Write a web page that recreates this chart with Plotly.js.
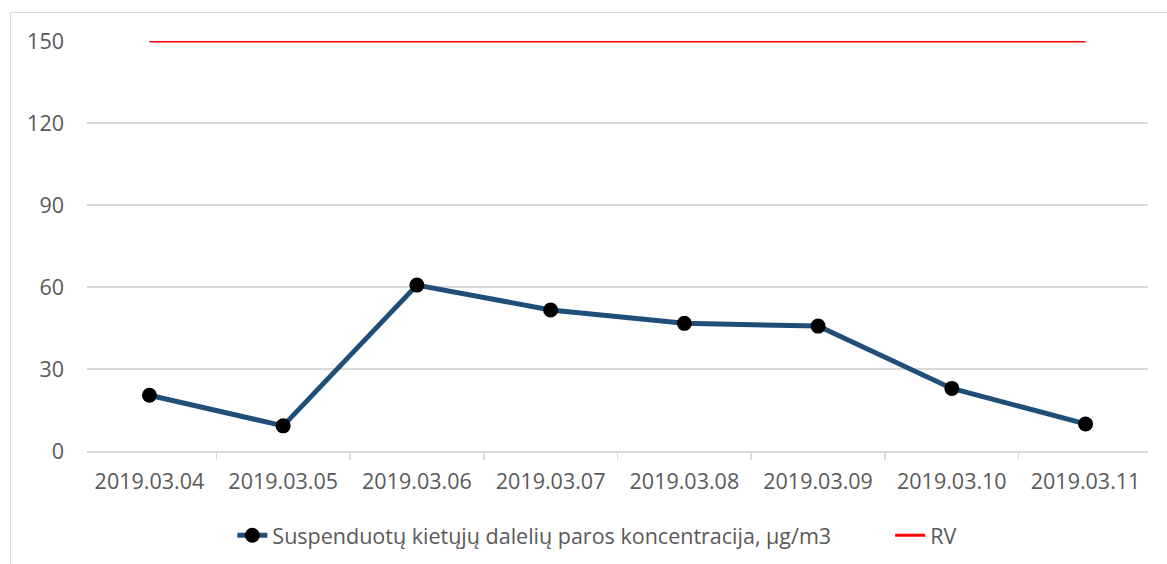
<!DOCTYPE html>
<html><head><meta charset="utf-8">
<script src="https://cdn.plot.ly/plotly-3.0.1.min.js"></script>
<style>
html,body{margin:0;padding:0;background:#fff;}
#wrap{position:relative;width:1167px;height:564px;overflow:hidden;}
#frame{position:absolute;left:10px;top:12px;width:1200px;height:600px;border:1px solid #d9d9d9;box-sizing:border-box;}
#chart{position:absolute;left:0;top:0;width:1167px;height:564px;}
</style></head>
<body><div id="wrap"><div id="frame"></div><div id="chart"></div></div>
<script>
const categories = ["2019.03.04","2019.03.05","2019.03.06","2019.03.07","2019.03.08","2019.03.09","2019.03.10","2019.03.11"];
const concentration = [20.4, 9.2, 60.7, 51.6, 46.7, 45.7, 22.9, 9.9];
const rvValues = [150, 150, 150, 150, 150, 150, 150, 150];
const seriesNames = ["Suspenduotų kietųjų dalelių paros koncentracija, µg/m3", "RV"];
const yTicks = [0, 30, 60, 90, 120, 150];

const font = {family: "Open Sans, Noto Sans, sans-serif", size: 21.5, color: "#595959"};

const traces = [
  {x: categories, y: concentration, name: seriesNames[0], type: "scatter", mode: "lines+markers",
   line: {color: "#1F4E79", width: 5}, marker: {color: "#000000", size: 15}, legend: "legend"},
  {x: categories, y: rvValues, name: seriesNames[1], type: "scatter", mode: "lines",
   line: {color: "#FF0000", width: 3}, legend: "legend2"}
];

const legendBase = {orientation: "h", xanchor: "left", yref: "container", y: 0.051, yanchor: "middle",
  font: font, bgcolor: "rgba(0,0,0,0)", borderwidth: 0};

const layout = {
  width: 1167, height: 564,
  margin: {l: 87, r: 19, t: 41, b: 113},
  paper_bgcolor: "rgba(0,0,0,0)", plot_bgcolor: "rgba(0,0,0,0)",
  font: font,
  showlegend: true,
  xaxis: {type: "category", showgrid: false, zeroline: false, automargin: false,
    showline: true, linecolor: "#d9d9d9", linewidth: 1.5,
    ticks: "outside", tickson: "boundaries", ticklen: 7, tickcolor: "#d9d9d9", tickwidth: 1.5,
    tickfont: font, ticklabelstandoff: 11, fixedrange: true},
  yaxis: {range: [0, 150], tickvals: yTicks, showgrid: true, gridcolor: "#d9d9d9", gridwidth: 1.5,
    zeroline: false, showline: false, ticks: "", tickfont: font, ticklabelstandoff: 22, fixedrange: true, automargin: false},
  legend: Object.assign({}, legendBase, {x: 0.137}),
  legend2: Object.assign({}, legendBase, {x: 0.757})
};

Plotly.newPlot("chart", traces, layout, {displayModeBar: false, staticPlot: true});
</script></body></html>
